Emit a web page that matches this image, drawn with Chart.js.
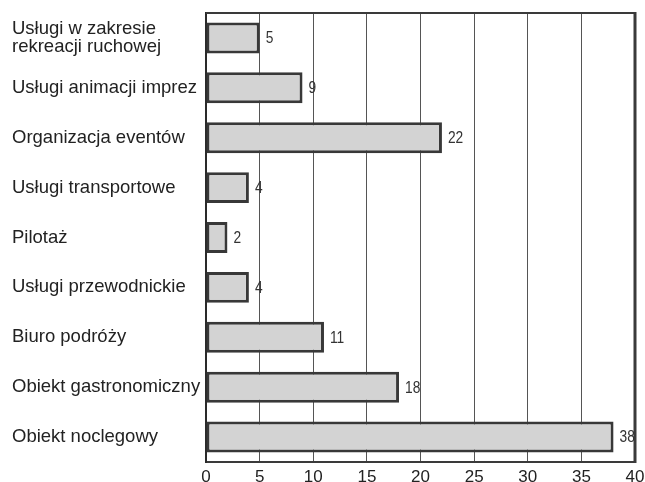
<!DOCTYPE html>
<html><head><meta charset="utf-8">
<script src="https://cdn.jsdelivr.net/npm/chart.js@4.4.0/dist/chart.umd.min.js"></script>
<style>html,body{margin:0;padding:0;background:#fff}#wrap{width:645px;height:482px}</style>
</head><body><div id="wrap"><canvas id="c" width="645" height="482"></canvas></div>
<script>
const categories = [
  ["Usługi w zakresie", "rekreacji ruchowej"],
  "Usługi animacji imprez",
  "Organizacja eventów",
  "Usługi transportowe",
  "Pilotaż",
  "Usługi przewodnickie",
  "Biuro podróży",
  "Obiekt gastronomiczny",
  "Obiekt noclegowy"
];
const values = [5, 9, 22, 4, 2, 4, 11, 18, 38];
const xMin = 0, xMax = 40, xStep = 5;

const frame = {
  id: 'frame',
  afterDatasetsDraw(chart) {
    const {ctx, chartArea: a} = chart;
    ctx.save();
    ctx.strokeStyle = '#3a3a3a';
    ctx.lineWidth = 2;
    ctx.beginPath();
    ctx.moveTo(a.left, a.top); ctx.lineTo(a.right, a.top);
    ctx.stroke();
    ctx.lineWidth = 3;
    ctx.beginPath();
    ctx.moveTo(a.right, a.top - 1); ctx.lineTo(a.right, a.bottom + 1);
    ctx.stroke();
    // value labels (narrow)
    const meta = chart.getDatasetMeta(0);
    ctx.fillStyle = '#333';
    ctx.font = '16px "Liberation Sans", Arial, sans-serif';
    ctx.textAlign = 'left';
    ctx.textBaseline = 'middle';
    meta.data.forEach((bar, i) => {
      ctx.save();
      ctx.translate(bar.x + 6, bar.y + 1);
      ctx.scale(0.86, 1);
      ctx.fillText(String(values[i]), 0, 0);
      ctx.restore();
    });
    ctx.restore();
  }
};

new Chart(document.getElementById('c'), {
  type: 'bar',
  data: {
    labels: categories,
    datasets: [{
      data: values,
      backgroundColor: '#d3d3d3',
      borderColor: '#383838',
      borderWidth: 3,
      borderSkipped: false,
      categoryPercentage: 1,
      barPercentage: 0.62
    }]
  },
  options: {
    indexAxis: 'y',
    responsive: false,
    animation: false,
    devicePixelRatio: 1,
    layout: { padding: { left: 12, right: 10, top: 13, bottom: 0 } },
    plugins: { legend: { display: false }, tooltip: { enabled: false } },
    scales: {
      x: {
        min: xMin, max: xMax,
        ticks: { stepSize: xStep, color: '#222', padding: 5, maxRotation: 0,
          font: { family: '"Liberation Sans", Arial, sans-serif', size: 17 } },
        grid: { color: '#555', lineWidth: 1, drawTicks: false },
        border: { color: '#3a3a3a', width: 2 },
        afterFit(s) { s.height = 20; s.paddingRight = 0; s.paddingLeft = 0; }
      },
      y: {
        ticks: { crossAlign: 'far', color: '#222',
          font: { family: '"Liberation Sans", Arial, sans-serif', size: 18.5, lineHeight: 0.93 } },
        grid: { display: false, drawTicks: false },
        border: { color: '#2a2a2a', width: 2 },
        afterFit(s) { s.width = 194; s.paddingTop = 0; s.paddingBottom = 0; }
      }
    }
  },
  plugins: [frame]
});
</script></body></html>
